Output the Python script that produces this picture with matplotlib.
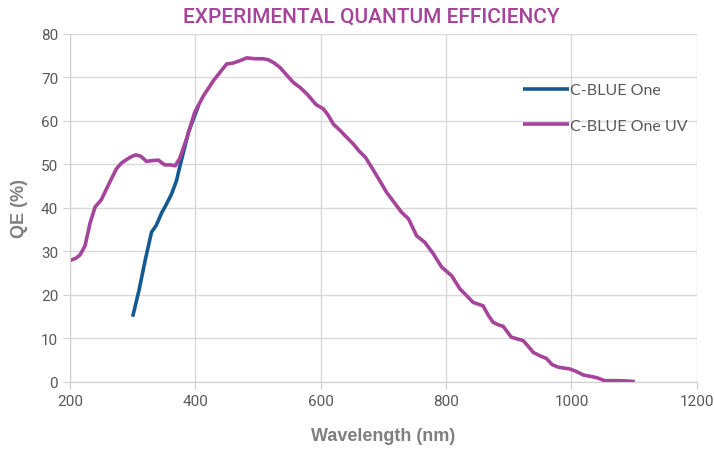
import matplotlib.pyplot as plt

# C-BLUE One (visible part, below the UV curve beyond ~400 nm)
wl_blue = [300, 310, 320, 330, 338, 346, 354, 362, 370, 375, 381, 389, 397, 405]
qe_blue = [15.0, 21.0, 28.0, 34.4, 36.1, 38.8, 40.9, 43.2, 46.3, 49.4, 52.8, 57.4, 60.5, 63.5]

# C-BLUE One UV
wl_uv = [200, 210, 216, 224, 232, 240, 250, 262, 274, 282, 290, 298, 305, 313, 322,
         332, 341, 351, 360, 368, 375, 386, 399, 413, 429, 440, 450, 460, 470, 482,
         495, 507, 516, 525, 535, 546, 556, 567, 578, 593, 604, 612, 620, 631, 641,
         652, 661, 671, 681, 694, 705, 717, 729, 740, 753, 766, 779, 793, 809, 822,
         833, 843, 859, 867, 875, 884, 891, 904, 923, 931, 939, 950, 960, 969, 979,
         997, 1008, 1019, 1030, 1040, 1053, 1065, 1077, 1090, 1101]
qe_uv = [27.9, 28.5, 29.2, 31.3, 36.5, 40.2, 41.9, 45.5, 49.0, 50.3, 51.1, 51.8, 52.2, 51.9, 50.7,
         50.9, 51.0, 49.9, 49.9, 49.7, 51.4, 55.9, 62.0, 65.8, 69.3, 71.3, 73.1, 73.3, 73.8, 74.5,
         74.3, 74.3, 74.1, 73.4, 72.3, 70.5, 68.9, 67.7, 66.2, 63.7, 62.8, 61.3, 59.3, 57.8, 56.3,
         54.7, 53.1, 51.7, 49.4, 46.3, 43.6, 41.3, 39.0, 37.5, 33.6, 32.1, 29.6, 26.4, 24.4, 21.4,
         19.8, 18.3, 17.5, 15.4, 13.7, 13.1, 12.8, 10.3, 9.5, 8.2, 6.8, 6.0, 5.4, 4.0, 3.4,
         3.0, 2.4, 1.6, 1.3, 1.0, 0.3, 0.3, 0.3, 0.2, 0.1]

blue = '#135a92'
purple = '#a5449a'
gray = '#595959'

fig = plt.figure(figsize=(7.14, 4.52), dpi=100)
ax = fig.add_axes([0.098, 0.1527, 0.878, 0.770])

ax.plot(wl_blue, qe_blue, color=blue, lw=2.6, label='C-BLUE One', solid_capstyle='butt')
ax.plot(wl_uv, qe_uv, color=purple, lw=2.6, label='C-BLUE One UV', solid_capstyle='butt')

ax.set_xlim(200, 1200)
ax.set_ylim(0, 80)
ax.set_xticks(range(200, 1201, 200))
ax.set_yticks(range(0, 81, 10))
ax.grid(True, color='#d9d9d9', lw=1)
ax.set_axisbelow(True)

for s in ['top', 'right']:
    ax.spines[s].set_visible(False)
for s in ['left', 'bottom']:
    ax.spines[s].set_color('#d0d0d0')
ax.tick_params(colors='#d0d0d0', labelcolor=gray, labelsize=11, length=5)
for lab in ax.get_xticklabels() + ax.get_yticklabels():
    lab.set_family('Roboto')

ax.set_xlabel('Wavelength (nm)', fontsize=13, fontweight='bold', color='#7f7f7f',
              labelpad=14, family='Liberation Sans')
ax.set_ylabel('QE (%)', fontsize=13, fontweight='bold', color='#7f7f7f',
              labelpad=9, family='Liberation Sans')

fig.text(0.52, 0.962, 'EXPERIMENTAL QUANTUM EFFICIENCY', ha='center', va='center',
         fontsize=15, color=purple, family='Roboto', fontweight='medium')

leg = ax.legend(loc='upper left', bbox_to_anchor=(0.70, 0.90), frameon=False,
                prop={'family': 'Lato', 'size': 11.5},
                handlelength=2.9, handletextpad=0.05, labelspacing=1.35)
for t in leg.get_texts():
    t.set_color(gray)

fig.savefig('out.png', dpi=100)
